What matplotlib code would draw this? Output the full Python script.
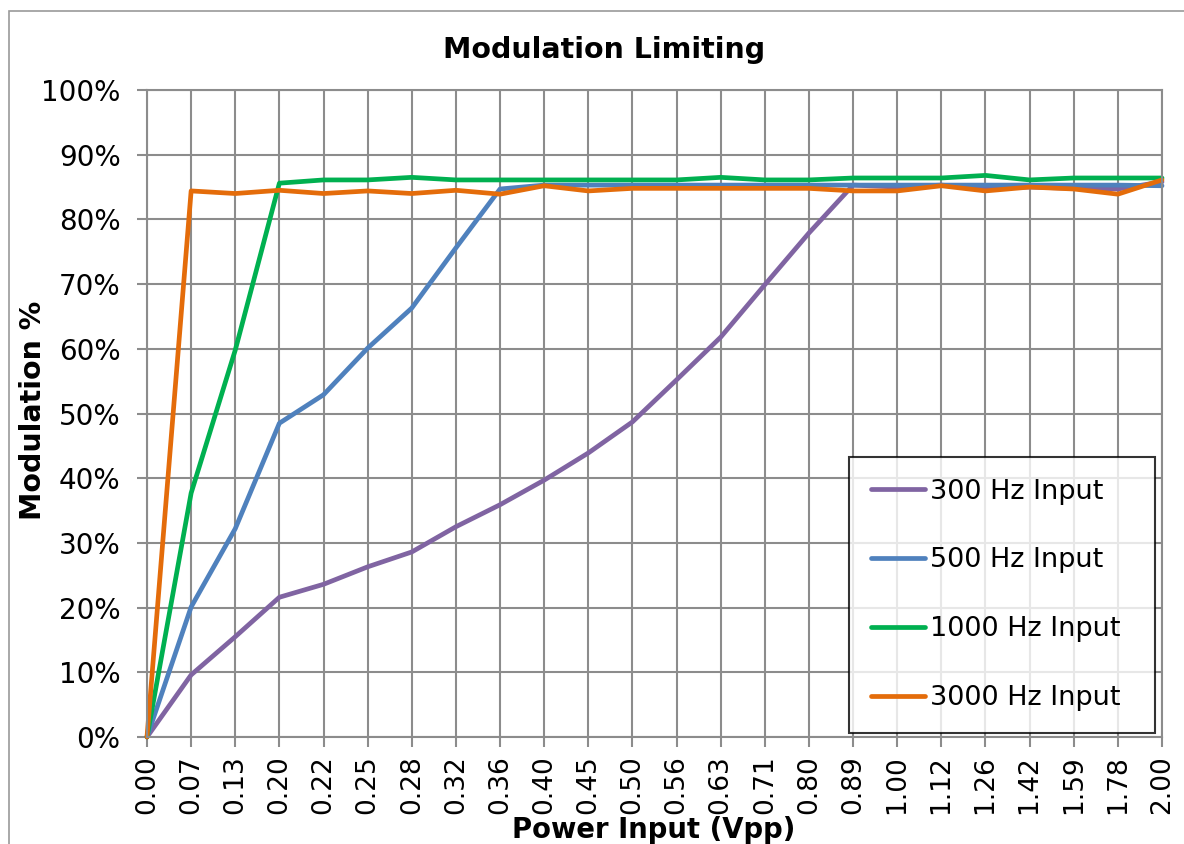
import matplotlib.pyplot as plt
from matplotlib.patches import Rectangle

# x categories (Vpp) and modulation %
power_labels = ['0.00', '0.07', '0.13', '0.20', '0.22', '0.25', '0.28', '0.32',
                '0.36', '0.40', '0.45', '0.50', '0.56', '0.63', '0.71', '0.80',
                '0.89', '1.00', '1.12', '1.26', '1.42', '1.59', '1.78', '2.00']
hz300 = [0, 9.6, 15.5, 21.6, 23.6, 26.3, 28.6, 32.5, 35.9, 39.7, 43.9, 48.7,
         55.2, 61.8, 69.9, 77.9, 85.3, 85.0, 85.3, 84.8, 85.0, 84.8, 84.7, 85.8]
hz500 = [0, 20.1, 32.2, 48.5, 52.9, 60.1, 66.3, 75.6, 84.7, 85.3, 85.3, 85.3,
         85.3, 85.3, 85.3, 85.3, 85.3, 85.3, 85.3, 85.3, 85.3, 85.3, 85.3, 85.2]
hz1000 = [0, 37.7, 59.8, 85.6, 86.1, 86.1, 86.5, 86.1, 86.1, 86.1, 86.1, 86.1,
          86.1, 86.5, 86.1, 86.1, 86.4, 86.4, 86.4, 86.8, 86.1, 86.4, 86.4, 86.4]
hz3000 = [0, 84.4, 84.0, 84.5, 84.0, 84.4, 84.0, 84.5, 83.9, 85.2, 84.4, 84.8,
          84.8, 84.8, 84.8, 84.8, 84.4, 84.4, 85.2, 84.4, 85.0, 84.7, 83.9, 86.1]

series = [
    ('300 Hz Input', hz300, '#8064A2'),
    ('500 Hz Input', hz500, '#4F81BD'),
    ('1000 Hz Input', hz1000, '#00B050'),
    ('3000 Hz Input', hz3000, '#E46C0A'),
]

W, H = 1184, 844
fig = plt.figure(figsize=(W / 100, H / 100), dpi=100)
ax = fig.add_axes([147 / W, 1 - 737 / H, (1162 - 147) / W, (737 - 90) / H])

x = list(range(len(power_labels)))
for name, vals, col in series:
    ax.plot(x, vals, color=col, lw=3.4, label=name,
            solid_joinstyle='round', solid_capstyle='round', clip_on=False)

grid_col = '#8c8c8c'
ax.set_xlim(0, len(power_labels) - 1)
ax.set_ylim(0, 100)
ax.set_xticks(x)
ax.set_xticklabels(power_labels, rotation=90)
ax.set_yticks(range(0, 101, 10))
ax.set_yticklabels([f'{v}%' for v in range(0, 101, 10)])
ax.grid(True, color=grid_col, lw=1.5)
ax.set_axisbelow(True)
for s in ax.spines.values():
    s.set_color(grid_col)
    s.set_linewidth(1.5)
ax.tick_params(axis='both', color=grid_col, width=1.5, length=7,
               labelcolor='black')
ax.tick_params(axis='x', pad=6, labelsize=19)
ax.tick_params(axis='y', pad=12, labelsize=20)

leg = ax.legend(loc='upper left',
                bbox_to_anchor=(849 / W, 1 - 733 / H, 306 / W, 276 / H),
                bbox_transform=fig.transFigure, mode='expand', fontsize=19.5,
                frameon=True, fancybox=False, edgecolor='black',
                handlelength=2.0, handletextpad=0.2, labelspacing=1.58,
                borderpad=0.8, borderaxespad=0)
leg.get_frame().set_linewidth(1.5)
for h in leg.get_lines():
    h.set_linewidth(3.4)

fig.text(604 / W, 1 - 50 / H, 'Modulation Limiting', ha='center', va='center',
         fontsize=20.5, fontweight='bold')
fig.text(33 / W, 1 - 410 / H, 'Modulation %', ha='center', va='center',
         rotation=90, fontsize=20.5, fontweight='bold')
fig.text(654 / W, 1 - 830 / H, 'Power Input (Vpp)', ha='center', va='center',
         fontsize=19.8, fontweight='bold')

# outer chart-area border (only top and left edges visible)
fig.patches.append(Rectangle((9 / W, -0.2), 2, 1.2 - 11 / H, transform=fig.transFigure,
                             fill=False, edgecolor='#9a9a9a', lw=1.2))

fig.savefig('out.png', dpi=100)
